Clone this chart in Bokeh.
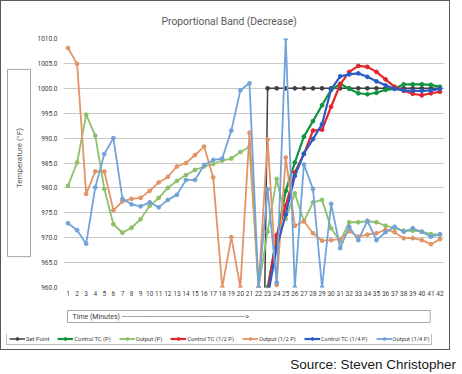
from bokeh.plotting import figure
from bokeh.models import (ColumnDataSource, Range1d, FixedTicker, PrintfTickFormatter,
                          Title, Legend, LegendItem, Div)
from bokeh.layouts import column, row
from bokeh.embed import file_html
from bokeh.resources import INLINE

nan = float("nan")
NB = "\u00a0"

minutes = list(range(1, 43))
y_ticks = [960, 965, 970, 975, 980, 985, 990, 995, 1000, 1005, 1010]

set_point = [nan] * 21 + [870] + [1000] * 20

control_p = [nan] * 22 + [960, 970.0, 979.4, 985.1, 990.3, 993.4, 996.6, 999.7, 1000.9,
                          999.9, 999.0, 998.8, 999.1, 999.7, 999.9, 1000.8, 1000.8,
                          1000.8, 1000.7, 1000.3]

output_p = [980.4, 985.1, 994.7, 990.5, 979.8, 972.7, 971.0, 972.0, 973.7, 976.4,
            978.0, 980.0, 981.4, 982.6, 983.6, 984.3, 984.8, 985.5, 985.9, 987.2,
            988.2, 960.0, 971.2, 981.8, 973.8, 978.9, 973.3, 977.1, 977.6, 971.9,
            969.3, 973.1, 973.1, 973.3, 973.1, 972.4, 971.9, 971.4, 971.4, 971.2,
            970.7, 970.6]

control_half = [nan] * 22 + [959.0, 970.5, 976.4, 983.1, 986.8, 991.5, 991.7, 996.3,
                             1000.8, 1003.3, 1004.5, 1004.3, 1003.3, 1001.8, 1000.3,
                             999.5, 998.9, 998.6, 999.0, 999.3]

output_half = [1008.1, 1004.9, 978.8, 983.3, 983.3, 975.5, 977.3, 977.8, 978.0, 979.4,
               981.1, 982.2, 984.3, 985.0, 986.6, 988.3, 982.1, 960.0, 970.1, 960.0,
               991.1, 960.0, 989.7, 960.5, 986.1, 972.4, 973.3, 970.9, 969.4, 969.5,
               969.7, 971.3, 970.2, 970.6, 970.9, 971.6, 971.1, 969.9, 969.9, 969.5,
               968.7, 969.7]

control_quarter = [nan] * 22 + [958.0, 968.0, 974.7, 982.4, 986.9, 989.8, 992.8, 999.8,
                                1002.4, 1002.8, 1003.0, 1002.3, 1001.4, 1000.6, 999.9,
                                999.6, 999.5, 999.5, 999.6, 999.9]

output_quarter = [972.9, 971.5, 968.8, 980.1, 986.8, 990.0, 977.8, 976.7, 976.3, 977.1,
                  976.1, 977.6, 978.6, 981.6, 981.6, 984.6, 985.6, 985.9, 991.5, 999.6,
                  1001.0, 960.0, 979.7, 961.0, 1010.0, 960.0, 984.7, 979.8, 960.0, 976.8,
                  967.9, 972.2, 969.5, 973.4, 969.5, 971.1, 972.2, 971.2, 971.9, 971.2,
                  970.2, 970.7]

series = [
    ("Set Point", set_point, "#404040", 1.5),
    ("Control TC (P)", control_p, "#11943F", 2.2),
    ("Output (P)", output_p, "#8DC06A", 1.8),
    ("Control TC (1/2 P)", control_half, "#E2262B", 2.2),
    ("Output (1/2 P)", output_half, "#E39467", 1.8),
    ("Control TC (1/4 P)", control_quarter, "#2B5CC6", 2.2),
    ("Output (1/4 P)", output_quarter, "#72A3D8", 1.8),
]

# ---------------- main chart ----------------
p = figure(width=448, height=333, output_backend="svg", toolbar_location=None,
           x_range=Range1d(0.5, 42.5), y_range=Range1d(960, 1010),
           min_border_left=60, min_border_right=5, min_border_top=37,
           min_border_bottom=47)
p.outline_line_color = None
p.background_fill_color = "white"
p.border_fill_color = "white"

p.title = Title(text="Proportional Band (Decrease)", align="left", offset=98,
                standoff=22, text_font="Roboto", text_font_size="10.3px",
                text_font_style="normal", text_color="#595959")

p.xgrid.grid_line_color = None
p.ygrid.grid_line_color = "#C8C8C8"
p.ygrid.grid_line_width = 1

for ax in (p.xaxis[0], p.yaxis[0]):
    ax.axis_line_color = None
    ax.major_tick_line_color = None
    ax.minor_tick_line_color = None
    ax.major_tick_out = 0
    ax.major_tick_in = 0
    ax.major_label_text_font = "Roboto"
    ax.major_label_text_font_size = "6.5px"
    ax.major_label_text_color = "#404040"

p.xaxis[0].ticker = FixedTicker(ticks=minutes)
p.xaxis[0].major_label_standoff = 3
p.yaxis[0].ticker = FixedTicker(ticks=y_ticks)
p.yaxis[0].formatter = PrintfTickFormatter(format="%.1f")
p.yaxis[0].major_label_standoff = 6

ylab = Title(text=NB * 31 + "Temperature (°F)" + NB * 26, align="center", standoff=8,
             text_font="Roboto", text_font_size="8px", text_font_style="normal",
             text_color="#595959", border_line_color="#A6A6A6", padding=7)
p.add_layout(ylab, "left")

tlab = Title(text="Time (Minutes) " + "-" * 64 + ">", align="left", offset=4,
             standoff=20, text_font="Roboto", text_font_size="7px",
             text_font_style="normal", text_color="#404040",
             border_line_color="#A6A6A6",
             padding=dict(left=5, right=181, top=2, bottom=2))
p.add_layout(tlab, "below")

for name, vals, color, lw in series:
    src = ColumnDataSource(data=dict(x=minutes, y=vals))
    p.line("x", "y", source=src, line_color=color, line_width=lw)
    p.scatter("x", "y", source=src, size=3.8, fill_color=color, line_color=color)

# ---------------- legend strip ----------------
q = figure(width=448, height=15, output_backend="svg", toolbar_location=None,
           x_range=Range1d(0, 1), y_range=Range1d(0, 1),
           x_axis_location=None, y_axis_location=None, min_border=0)
q.outline_line_color = None
q.grid.visible = False
q.background_fill_color = "white"
q.border_fill_color = "white"

items = []
for name, vals, color, lw in series:
    src = ColumnDataSource(data=dict(x=minutes, y=vals))
    r1 = q.line("x", "y", source=src, line_color=color, line_width=lw)
    r2 = q.scatter("x", "y", source=src, size=3.8, fill_color=color, line_color=color)
    items.append(LegendItem(label=name, renderers=[r1, r2]))

legend = Legend(items=items, orientation="horizontal", location=(5, 4))
legend.label_text_font = "Roboto"
legend.label_text_font_size = "5.8px"
legend.label_text_color = "#404040"
legend.glyph_width = 16
legend.glyph_height = 7
legend.label_standoff = 1
legend.label_height = 7
legend.spacing = 8
legend.padding = 2
legend.margin = 0
legend.border_line_color = "#7F7F7F"
legend.border_line_width = 1
legend.background_fill_alpha = 1
q.add_layout(legend, "center")

chart = column(p, row(q, spacing=0), spacing=0,
               styles={"border": "1px solid #595959"})

source = Div(text="Source: Steven Christopher", width=451, height=20,
             styles={"font-family": "Liberation Sans, Arial, sans-serif",
                     "font-size": "13.5px", "color": "#1A1A1A",
                     "text-align": "right", "padding-top": "0px"})

layout = column(chart, source, spacing=0)
open("out.html", "w").write(file_html(layout, INLINE))
